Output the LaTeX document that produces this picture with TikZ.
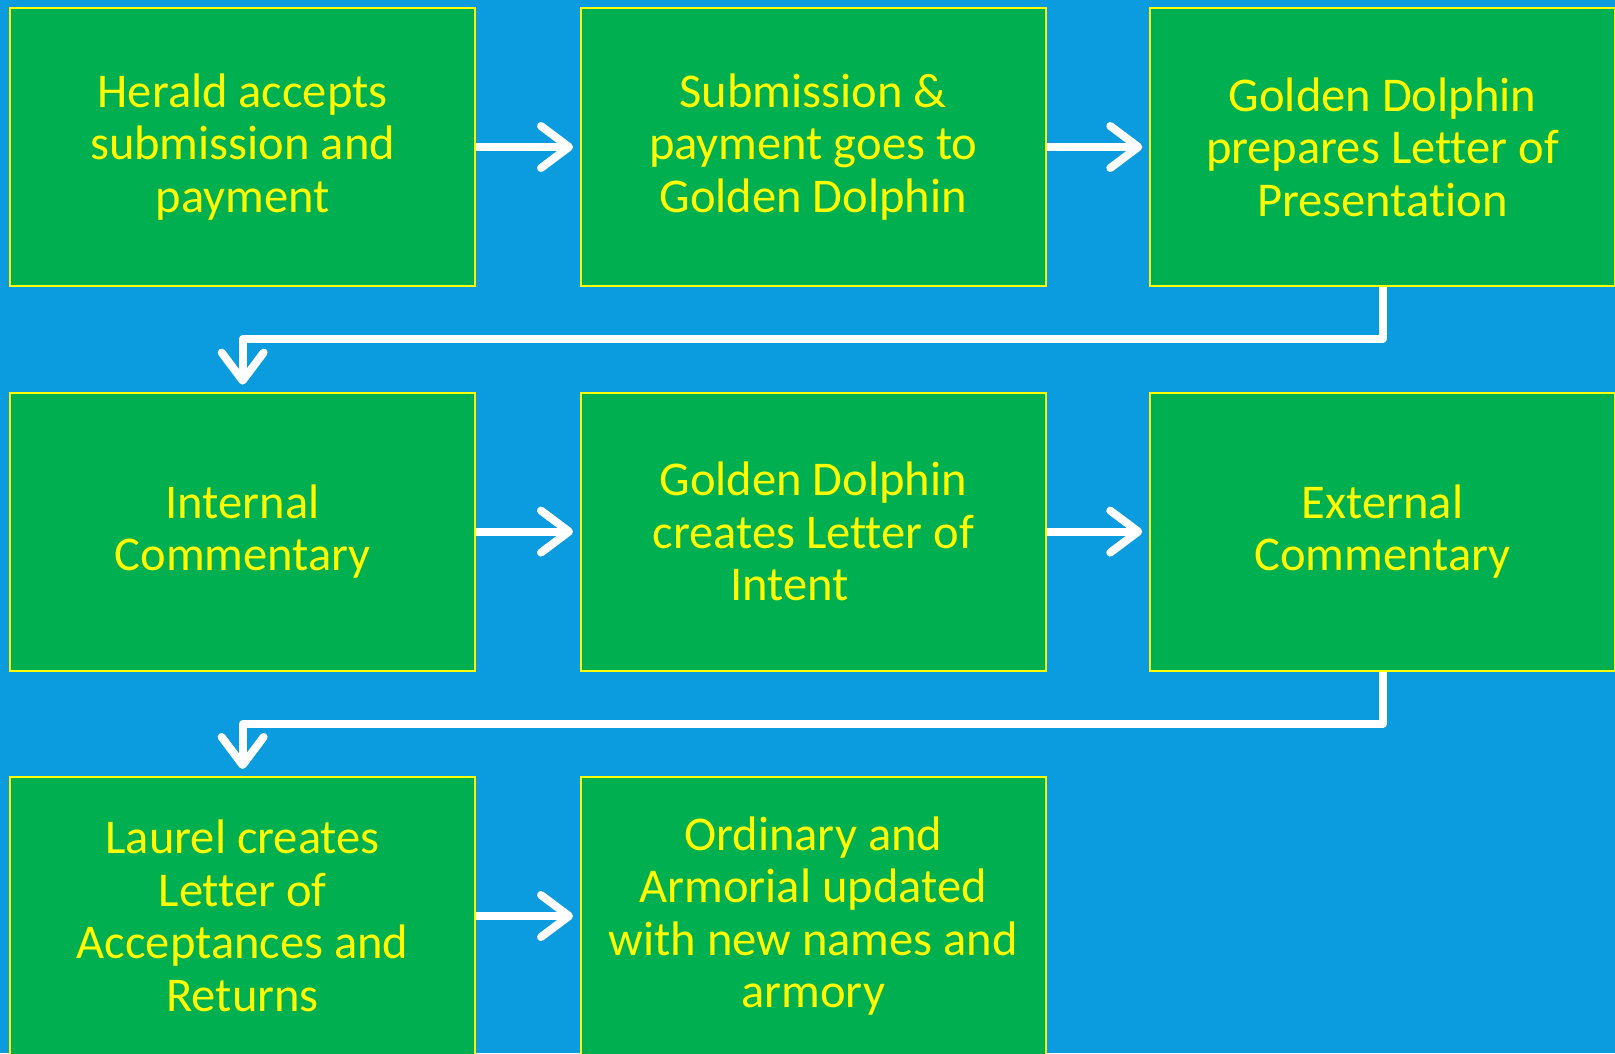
\documentclass[tikz,border=0pt]{standalone}
\usepackage{fontspec}
\setmainfont{Carlito}[Ligatures={NoCommon}]
\usetikzlibrary{arrows.meta}
\definecolor{bgblue}{RGB}{11,155,223}
\definecolor{boxgreen}{RGB}{0,176,80}
\definecolor{txtyellow}{RGB}{255,255,0}
\tikzset{
  stepbox/.style={draw=txtyellow, line width=2pt, fill=boxgreen, minimum width=464.5pt, minimum height=278pt, inner sep=0pt, align=center, text=txtyellow, font=\fontsize{48.5}{52.5}\selectfont},
  flow/.style={draw=white, line width=8pt, line join=round, -{Straight Barb[round, length=28pt, width=42pt]}, shorten >=7pt}
}
\begin{document}
\begin{tikzpicture}[x=1pt, y=-1pt]
\fill[bgblue] (0,0) rectangle (1615,1053);
\useasboundingbox (0,0) rectangle (1615,1053);
\clip (0,0) rectangle (1615,1053);
\node[stepbox] (a) at (242.65,147) {Herald accepts\\submission and\\payment};
\node[stepbox] (b) at (813.25,147) {Submission \&\\payment goes to\\Golden Dolphin};
\node[stepbox] (c) at (1382.5,147) {Golden Dolphin\\prepares Letter of\\Presentation};
\node[stepbox] (d) at (242.65,531.6) {Internal\\Commentary};
\node[stepbox] (e) at (813.25,531.6) {Golden Dolphin\\creates Letter of\\Intent\hspace*{48pt}};
\node[stepbox] (f) at (1382.5,531.6) {External\\Commentary};
\node[stepbox] (g) at (242.65,916) {Laurel creates\\Letter of\\Acceptances and\\Returns};
\node[stepbox] (h) at (813.25,916) {Ordinary and\\Armorial updated\\with new names and\\armory};
\coordinate (c1) at (1382.5,339);
\coordinate (c2) at (242.65,339);
\coordinate (f1) at (1382.5,724);
\coordinate (f2) at (242.65,724);
\draw[flow] (a.east) -- (b.west);
\draw[flow] (b.east) -- (c.west);
\draw[flow] (c.south) -- (c1) -- (c2) -- (d.north);
\draw[flow] (d.east) -- (e.west);
\draw[flow] (e.east) -- (f.west);
\draw[flow] (f.south) -- (f1) -- (f2) -- (g.north);
\draw[flow] (g.east) -- (h.west);
\end{tikzpicture}
\end{document}
